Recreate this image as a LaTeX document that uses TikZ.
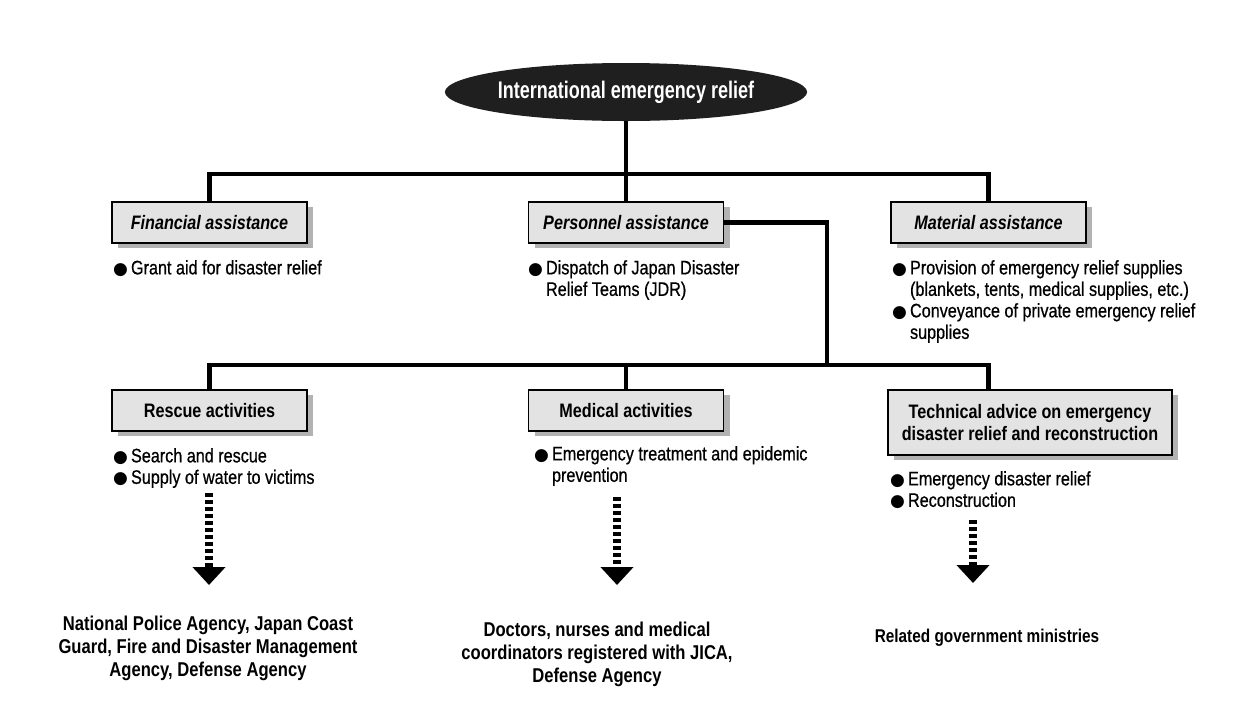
\documentclass[tikz,border=0pt]{standalone}
\usepackage{fontspec}
\setmainfont{Liberation Sans}[FakeStretch=0.83]
\newfontfamily\bodyfont{Liberation Sans}[FakeStretch=0.83, FakeBold=0.6]
\newfontfamily\tallfont{Liberation Sans}[FakeStretch=0.75]
\newfontfamily\symfont{DejaVu Sans}
\usetikzlibrary{shapes.geometric,arrows.meta,shadows}

% round bullet and an invisible one of the same width for hanging lines
\newcommand\blt{{\symfont\fontsize{17}{17}\selectfont ●}\hspace{3pt}}
\newcommand\bltgap{\hphantom{\blt}}

\begin{document}
\begin{tikzpicture}[x=1pt,y=-1pt,
  conn/.style={line width=4.5pt, line join=miter},
  boxnode/.style={draw, line width=1.6pt, fill=gray!22, minimum width=195pt,
    minimum height=41pt, inner sep=2pt,
    drop shadow={shadow xshift=6pt,shadow yshift=-5pt,fill=gray!60,opacity=1}},
  toptitle/.style={boxnode, font=\fontsize{19.5}{21.5}\selectfont\bfseries\itshape},
  lowtitle/.style={boxnode, align=center, font=\fontsize{19.5}{21.5}\selectfont\bfseries},
  bodytxt/.style={anchor=north west, inner sep=0pt, align=left,
    font=\bodyfont\fontsize{19.5}{21.5}\selectfont},
  bottomtxt/.style={align=center, inner sep=0pt, font=\fontsize{20}{23}\selectfont\bfseries},
  ladder/.style={line width=8pt, dash pattern=on 3.5pt off 3.5pt,
    -{Triangle[width=32pt,length=18pt]}}
]
\fill[white] (0,0) rectangle (1244,724);
\useasboundingbox (0,0) rectangle (1244,724);

% top of the tree
\node[ellipse, fill=black!88, minimum width=306pt, minimum height=58pt, inner sep=0pt,
  text=white, font=\tallfont\fontsize{24}{26}\selectfont\bfseries] (irel) at (626,92)
  {International emergency relief};

% three forms of assistance
\node[toptitle] (fin)  at (209.5,222.5) {Financial assistance};
\node[toptitle] (pers) at (626,222.5)   {Personnel assistance};
\node[toptitle] (mat)  at (988.5,222.5) {Material assistance};

\node[bodytxt] (finL)  at (113,260) {\blt Grant aid for disaster relief};
\node[bodytxt] (persL) at (528,260) {\blt Dispatch of Japan Disaster\\\bltgap Relief Teams (JDR)};
\node[bodytxt] (matL)  at (892,260) {\blt Provision of emergency relief supplies\\
  \bltgap (blankets, tents, medical supplies, etc.)\\
  \blt Conveyance of private emergency relief\\\bltgap supplies};

% activities of the relief teams
\node[lowtitle] (resc) at (209.5,410.5) {Rescue activities};
\node[lowtitle] (med)  at (626,410.5)   {Medical activities};
\node[lowtitle, minimum width=284pt, minimum height=65pt] (tech) at (1030,422.5)
  {Technical advice on emergency\\disaster relief and reconstruction};

\node[bodytxt] (rescL) at (113,448) {\blt Search and rescue\\\blt Supply of water to victims};
\node[bodytxt] (medL)  at (534,446) {\blt Emergency treatment and epidemic\\\bltgap prevention};
\node[bodytxt] (techL) at (890,471) {\blt Emergency disaster relief\\\blt Reconstruction};

% organisations behind each activity
\node[bottomtxt] (rescB) at (208,648) {National Police Agency, Japan Coast\\
  Guard, Fire and Disaster Management\\Agency, Defense Agency};
\node[bottomtxt] (medB) at (597,654) {Doctors, nurses and medical\\
  coordinators registered with JICA,\\Defense Agency};
\node[bottomtxt, font=\fontsize{18.5}{21}\selectfont\bfseries] (techB) at (987,638)
  {Related government ministries};

% tree connectors
\draw[conn] (irel.south -| pers.north) -- (pers.north);
\draw[conn] (fin.north) -- ++(0,-27) -| (mat.north);
\coordinate (lowjoin) at (827,365);
\draw[conn] (pers.east) -| (lowjoin);
\draw[conn] (resc.north) -- ++(0,-24) -| (tech.north -| mat.south);
\draw[conn] (med.north) -- ++(0,-24);

% dashed arrows down to the organisations
\coordinate (ra) at (209,493); \coordinate (rb) at (209,585);
\coordinate (ma) at (617,497); \coordinate (mb) at (617,585);
\coordinate (ta) at (973,520); \coordinate (tb) at (973,583);
\draw[ladder] (ra) -- (rb);
\draw[ladder] (ma) -- (mb);
\draw[ladder] (ta) -- (tb);
\end{tikzpicture}
\end{document}
